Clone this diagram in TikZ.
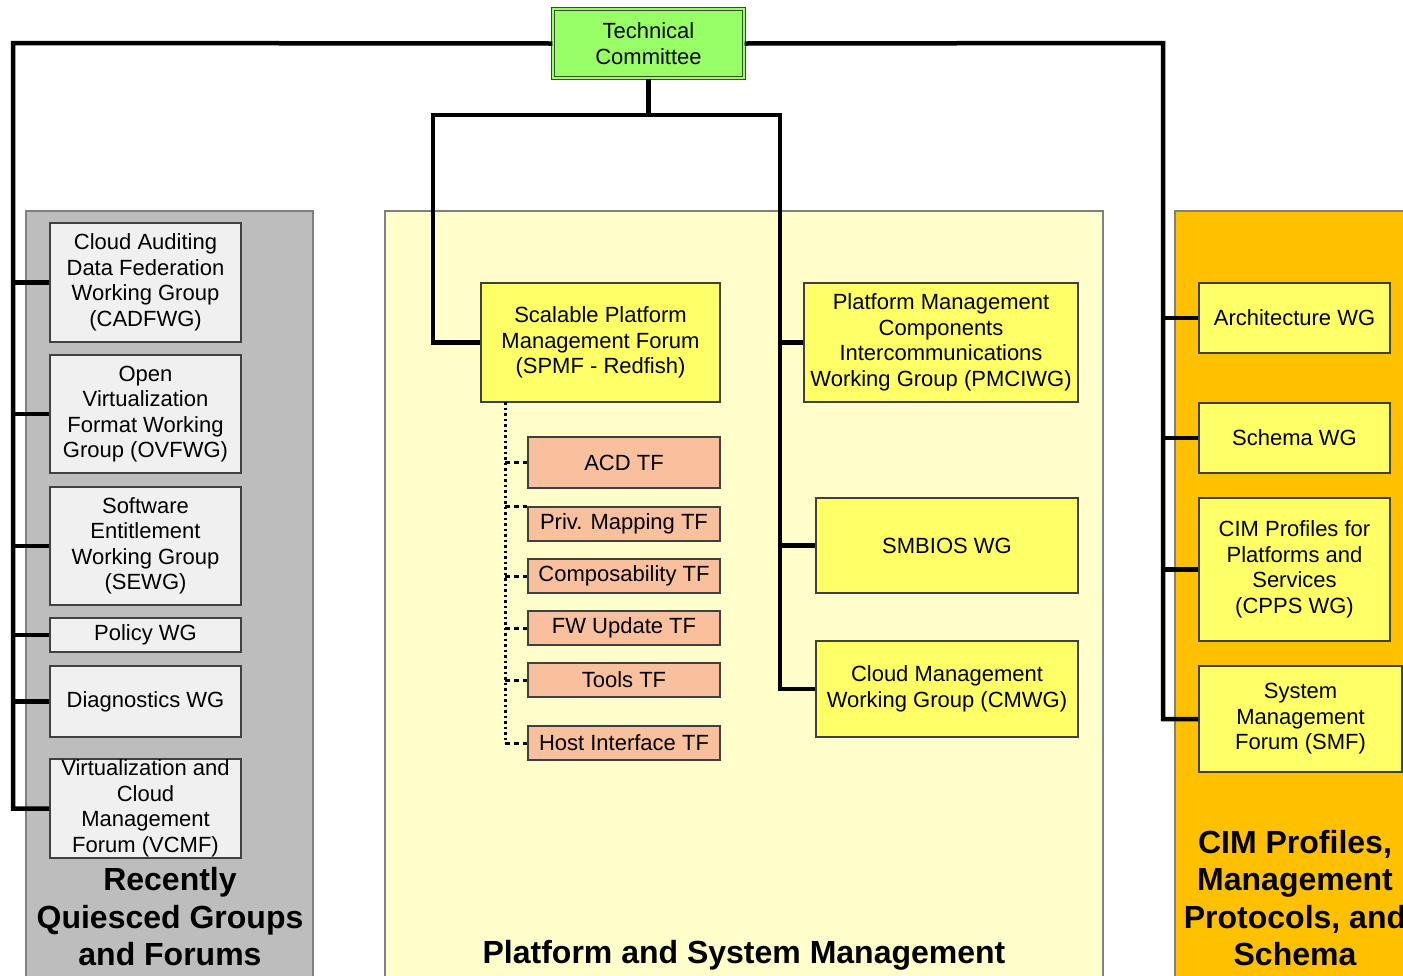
\documentclass[tikz,border=0pt]{standalone}
\usepackage{fontspec}
\setmainfont{Liberation Sans}
\usetikzlibrary{positioning}
\definecolor{tcgreen}{HTML}{99FF66}
\definecolor{tcline}{HTML}{2F4F2F}
\definecolor{greypanel}{HTML}{BDBDBD}
\definecolor{greybox}{HTML}{F0F0F0}
\definecolor{yelpanel}{HTML}{FFFFCC}
\definecolor{yelbox}{HTML}{FFFF66}
\definecolor{tfsalmon}{HTML}{F8C09C}
\definecolor{orapanel}{HTML}{FFC000}
\definecolor{boxline}{HTML}{404040}
\definecolor{panelline}{HTML}{808080}
\tikzset{
box/.style={draw=boxline, line width=1.6pt, inner sep=1pt, align=center, font=\fontsize{22}{25.5}\selectfont},
gbox/.style={box, fill=greybox, minimum width=191pt},
ybox/.style={box, fill=yelbox},
tfbox/.style={box, fill=tfsalmon, minimum width=192pt, minimum height=34pt},
tcbox/.style={box, draw=tcline, line width=1.2pt, double=tcgreen, double distance=2.5pt, fill=tcgreen},
panel/.style={draw=panelline, line width=1.5pt},
paneltitle/.style={font=\fontsize{32}{37.5}\selectfont\bfseries, align=center},
link/.style={line width=4.5pt},
tflink/.style={line width=3pt, dash pattern=on 2.5pt off 3pt},
tfdash/.style={line width=3pt, dash pattern=on 5pt off 4pt}
}

\begin{document}
\begin{tikzpicture}[x=1pt, y=-1pt]
	\useasboundingbox (0,0) rectangle (1403,975);
	% panels
	\draw[panel, fill=greypanel] (26,211) rectangle (313,990);
	\draw[panel, fill=yelpanel] (385,211) rectangle (1103,990);
	\draw[panel, fill=orapanel] (1175,211) rectangle (1430,990);
	\node[paneltitle] (greytitle) at (170,917) {Recently\\Quiesced Groups\\and Forums};
	\node[paneltitle] (yeltitle) at (744,955) {Platform and System Management};
	\node[paneltitle] (oratitle) at (1295,898) {CIM Profiles,\\Management\\Protocols, and\\Schema};

	\node[tcbox, minimum width=191pt, minimum height=69pt] (tc) at (648.5,43.5) {Technical\\Committee};

	% recently quiesced
	\node[gbox, minimum height=119pt] (cadf) at (145.5,282.5) {Cloud Auditing\\Data Federation\\Working Group\\(CADFWG)};
	\node[gbox, minimum height=118pt] (ovf) at (145.5,414) {Open\\Virtualization\\Format Working\\Group (OVFWG)};
	\node[gbox, minimum height=118pt] (sew) at (145.5,546) {Software\\Entitlement\\Working Group\\(SEWG)};
	\node[gbox, minimum height=34pt] (pol) at (145.5,635) {Policy WG};
	\node[gbox, minimum height=71pt] (diag) at (145.5,701.5) {Diagnostics WG};
	\node[gbox, minimum height=97pt] (vcmf) at (145.5,808.5) {Virtualization and\\Cloud\\Management\\Forum (VCMF)};

	% platform and system management
	\node[ybox, minimum width=239pt, minimum height=119pt] (spmf) at (600.5,342.5) {Scalable Platform\\Management Forum\\(SPMF - Redfish)};
	\node[ybox, minimum width=274pt, minimum height=119pt] (pmci) at (941,342.5) {Platform Management\\Components\\Intercommunications\\Working Group (PMCIWG)};
	\node[ybox, minimum width=262pt, minimum height=95pt] (smbios) at (947,545.5) {SMBIOS WG};
	\node[ybox, minimum width=262pt, minimum height=96pt] (cmwg) at (947,689) {Cloud Management\\Working Group (CMWG)};

	\node[tfbox, minimum height=51pt] (acd) at (624,462.5) {ACD TF};
	\node[tfbox] (priv) at (624,524) {Priv. Mapping TF};
	\node[tfbox] (comp) at (624,576) {Composability TF};
	\node[tfbox] (fw) at (624,628) {FW Update TF};
	\node[tfbox] (tools) at (624,680) {Tools TF};
	\node[tfbox] (host) at (624,743) {Host Interface TF};

	% CIM profiles
	\node[ybox, minimum width=191pt, minimum height=70pt] (arch) at (1294.5,318) {Architecture WG};
	\node[ybox, minimum width=191pt, minimum height=70pt] (schema) at (1294.5,438) {Schema WG};
	\node[ybox, minimum width=191pt, minimum height=143pt] (cpps) at (1294.5,569.5) {CIM Profiles for\\Platforms and\\Services\\(CPPS WG)};
	\node[ybox, minimum width=203pt, minimum height=106pt] (smf) at (1300.5,719) {System\\Management\\Forum (SMF)};

	% links
	\coordinate (lbus) at (13,43);
	\coordinate (rbus) at (1163,43);
	\coordinate (ml) at (433,115);
	\coordinate (mr) at (780,115);
	\coordinate (tfbus) at (505,402);

	\draw[link] (tc.west) -- (lbus) |- (vcmf.west);
	\draw[link] (cadf.west -| lbus) -- (cadf.west);
	\draw[link] (ovf.west -| lbus) -- (ovf.west);
	\draw[link] (sew.west -| lbus) -- (sew.west);
	\draw[link] (pol.west -| lbus) -- (pol.west);
	\draw[link] (diag.west -| lbus) -- (diag.west);

	\draw[link] (tc.south) -- (tc.south |- ml);
	\draw[link] (spmf.west) -| (ml) -- (mr) |- (cmwg.west);
	\draw[link] (pmci.west -| mr) -- (pmci.west);
	\draw[link] (smbios.west -| mr) -- (smbios.west);

	\draw[link] (tc.east) -- (rbus) |- (smf.west);
	\draw[link] (arch.west -| rbus) -- (arch.west);
	\draw[link] (schema.west -| rbus) -- (schema.west);
	\draw[link] (cpps.west -| rbus) -- (cpps.west);

	\draw[tflink] (tfbus) -- (host.west -| tfbus);
	\draw[tfdash] (acd.west -| tfbus) -- (acd.west);
	\draw[tfdash] (priv.north west -| tfbus) -- (priv.north west);
	\draw[tfdash] (comp.west -| tfbus) -- (comp.west);
	\draw[tfdash] (fw.west -| tfbus) -- (fw.west);
	\draw[tfdash] (tools.west -| tfbus) -- (tools.west);
	\draw[tfdash] (host.west -| tfbus) -- (host.west);
\end{tikzpicture}
\end{document}
